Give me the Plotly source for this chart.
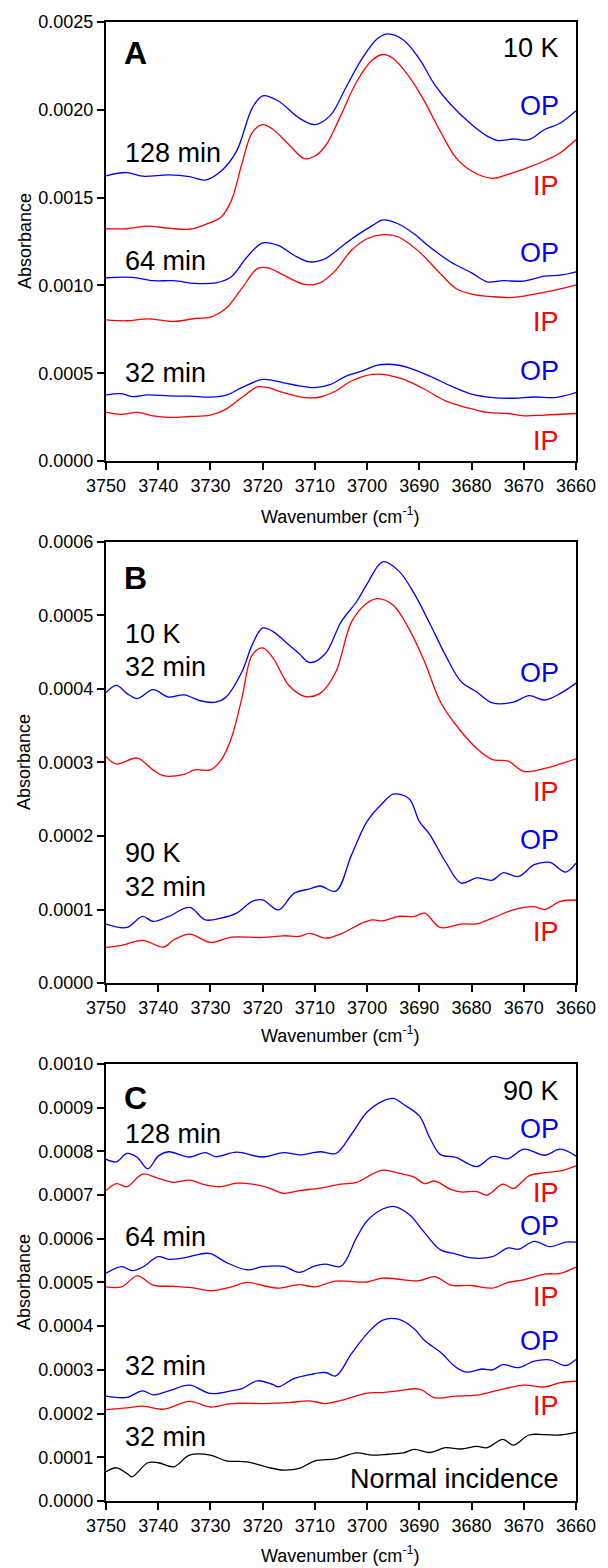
import plotly.graph_objects as go

# ---------------- Panel A (10 K) ----------------
A_OP128_x = [3750,3746,3743,3738,3734,3731,3728,3725,3722,3720,3717,3713,3710,3707,3704,3701,3698,3696,3693,3690,3687,3684,3680,3677,3675,3672,3669,3666,3663,3660]
A_OP128_y = [0.001624,0.001643,0.001622,0.00163,0.00162,0.0016,0.00165,0.001765,0.00201,0.00208,0.00205,0.001953,0.001916,0.00197,0.00213,0.00229,0.002406,0.002432,0.002396,0.00229,0.00214,0.00203,0.001916,0.00185,0.001825,0.001834,0.00183,0.001888,0.001925,0.001995]
A_IP128_x = [3750,3746,3742,3738,3734,3731,3728,3726,3724,3722,3720,3718,3715,3712,3710,3708,3705,3702,3699,3697,3695,3692,3689,3686,3683,3680,3676,3673,3670,3666,3663,3660]
A_IP128_y = [0.001323,0.001323,0.001338,0.001326,0.00132,0.001347,0.001388,0.001483,0.00169,0.00187,0.001916,0.001888,0.001803,0.001722,0.001737,0.001794,0.00197,0.00216,0.002283,0.002315,0.002292,0.00219,0.002048,0.001878,0.001728,0.001652,0.00161,0.001633,0.001662,0.00171,0.001756,0.001831]
A_OP64_x = [3750,3745,3741,3737,3733,3729,3726,3723,3720,3717,3714,3711,3708,3705,3702,3699,3697,3694,3691,3688,3684,3680,3677,3674,3670,3666,3663,3660]
A_OP64_y = [0.001044,0.001046,0.001027,0.001027,0.001012,0.001015,0.00105,0.001162,0.001242,0.001228,0.001172,0.001134,0.001153,0.001219,0.001285,0.001341,0.001373,0.00135,0.001294,0.001219,0.001134,0.001072,0.001021,0.001027,0.001025,0.001053,0.001059,0.001078]
A_IP64_x = [3750,3746,3742,3737,3733,3730,3727,3724,3721,3719,3716,3712,3709,3706,3703,3700,3697,3694,3690,3686,3683,3680,3676,3672,3668,3664,3660]
A_IP64_y = [0.000804,0.000799,0.00081,0.000795,0.000812,0.00082,0.00087,0.000983,0.001096,0.0011,0.001059,0.001006,0.001015,0.001087,0.0012,0.001266,0.001289,0.001276,0.001191,0.001068,0.000983,0.000951,0.000936,0.000932,0.000951,0.000974,0.001002]
A_OP32_x = [3750,3747,3745,3742,3738,3734,3730,3727,3724,3720,3716,3713,3710,3707,3704,3701,3698,3695,3692,3688,3684,3680,3676,3672,3668,3664,3660]
A_OP32_y = [0.000377,0.000384,0.000367,0.000377,0.000371,0.00037,0.000364,0.000375,0.000418,0.000465,0.000446,0.000428,0.000418,0.000437,0.000484,0.000512,0.000546,0.00055,0.000531,0.000484,0.000428,0.000381,0.000362,0.000358,0.000365,0.000362,0.00039]
A_IP32_x = [3750,3747,3744,3741,3738,3734,3730,3727,3724,3721,3719,3716,3712,3709,3706,3703,3699,3696,3693,3689,3685,3681,3677,3673,3670,3666,3660]
A_IP32_y = [0.000277,0.000266,0.000277,0.000258,0.000249,0.000254,0.000262,0.000296,0.000362,0.000422,0.000418,0.00039,0.000362,0.000365,0.000399,0.000456,0.000494,0.00049,0.000465,0.000409,0.000343,0.000305,0.000277,0.000271,0.000258,0.000262,0.000271]

# ---------------- Panel B (10 K vs 90 K, 32 min) ----------------
B_OP10_x = [3750,3748,3746,3744,3741,3738,3735,3732,3729,3727,3724,3722,3720,3718,3715,3713,3711,3708,3705,3702,3700,3697,3694,3691,3688,3685,3682,3679,3676,3672,3669,3666,3663,3660]
B_OP10_y = [0.000395,0.000405,0.000394,0.000387,0.000399,0.000389,0.000392,0.000384,0.000382,0.000389,0.000423,0.00046,0.000483,0.000478,0.00046,0.000448,0.000436,0.000448,0.000491,0.000519,0.000543,0.000573,0.000561,0.00053,0.000489,0.000446,0.00041,0.000396,0.000381,0.000382,0.000391,0.000385,0.000394,0.000408]
B_IP10_x = [3750,3748,3744,3741,3739,3735,3733,3730,3728,3726,3724,3722,3720,3718,3715,3712,3709,3706,3703,3700,3698,3695,3692,3689,3686,3683,3679,3676,3673,3670,3666,3663,3660]
B_IP10_y = [0.000308,0.000298,0.000306,0.00029,0.000282,0.000284,0.00029,0.00029,0.000303,0.000333,0.000387,0.000446,0.000456,0.000442,0.000405,0.00039,0.000394,0.000423,0.000491,0.000517,0.000523,0.000514,0.000482,0.000437,0.000383,0.000351,0.000319,0.000304,0.000302,0.000288,0.000292,0.000298,0.000305]
B_OP90_x = [3750,3746,3743,3741,3738,3734,3731,3728,3725,3722,3720,3717,3714,3711,3709,3706,3703,3700,3697,3695,3692,3690,3688,3685,3682,3679,3676,3674,3671,3668,3665,3662,3660]
B_OP90_y = [0.0000802,0.0000756,0.0000906,0.0000838,0.0000906,0.000103,0.000086,0.0000883,0.0000951,0.000111,0.000113,0.0000996,0.000122,0.000128,0.000132,0.000125,0.000174,0.00022,0.000245,0.000257,0.000251,0.00022,0.000202,0.000165,0.000136,0.000143,0.00014,0.00015,0.000145,0.000161,0.000164,0.000151,0.000163]
B_IP90_x = [3750,3747,3743,3739,3737,3734,3730,3726,3720,3716,3713,3711,3708,3705,3701,3699,3697,3694,3691,3689,3686,3682,3679,3676,3672,3668,3666,3663,3660]
B_IP90_y = [0.0000485,0.0000512,0.000058,0.0000489,0.0000589,0.0000666,0.0000553,0.0000625,0.000062,0.0000643,0.0000634,0.0000675,0.0000611,0.000067,0.0000815,0.000086,0.0000847,0.0000906,0.0000906,0.0000951,0.0000756,0.0000802,0.0000806,0.0000883,0.0000996,0.000104,0.0001,0.000111,0.000113]

# ---------------- Panel C (90 K) ----------------
C_OP128_x = [3750,3748,3746,3744,3742,3740,3738,3734,3731,3729,3725,3720,3716,3713,3709,3706,3703,3700,3697,3695,3693,3690,3688,3686,3683,3679,3676,3673,3670,3666,3663,3660]
C_OP128_y = [0.000782,0.000776,0.000795,0.000786,0.00076,0.000789,0.000799,0.000787,0.000797,0.000788,0.000798,0.000787,0.000797,0.000792,0.000799,0.000795,0.000839,0.00089,0.000915,0.000921,0.000907,0.000881,0.000831,0.000793,0.000786,0.000765,0.000788,0.000783,0.000805,0.000791,0.000805,0.000789]
C_IP128_x = [3750,3748,3746,3743,3740,3737,3734,3731,3728,3725,3722,3719,3716,3713,3709,3705,3702,3699,3697,3694,3691,3689,3687,3684,3682,3679,3677,3674,3672,3669,3666,3663,3660]
C_IP128_y = [0.00071,0.000726,0.000719,0.000748,0.000738,0.000729,0.000734,0.000723,0.000719,0.000727,0.000725,0.000717,0.000704,0.00071,0.000716,0.000725,0.000729,0.000748,0.000757,0.00075,0.000741,0.000726,0.000732,0.000713,0.000707,0.000708,0.0007,0.000725,0.000715,0.000744,0.000751,0.000755,0.000767]
C_OP64_x = [3750,3747,3745,3743,3740,3738,3735,3732,3730,3727,3723,3720,3716,3713,3710,3708,3705,3702,3700,3697,3695,3692,3689,3686,3683,3680,3676,3673,3671,3668,3665,3662,3660]
C_OP64_y = [0.000521,0.000536,0.000527,0.000535,0.000559,0.000553,0.000556,0.000565,0.000566,0.000546,0.000529,0.000536,0.000537,0.000523,0.000538,0.000542,0.000537,0.000603,0.000641,0.000668,0.000674,0.000656,0.000614,0.000575,0.000565,0.000556,0.000559,0.000579,0.000576,0.000594,0.000582,0.000592,0.000592]
C_IP64_x = [3750,3747,3744,3741,3737,3733,3730,3726,3723,3720,3717,3713,3710,3706,3700,3697,3693,3690,3687,3684,3680,3676,3673,3670,3666,3663,3660]
C_IP64_y = [0.00049,0.00049,0.000515,0.000494,0.000491,0.000487,0.000481,0.00049,0.0005,0.000493,0.000487,0.000495,0.00049,0.000503,0.000501,0.00051,0.000506,0.000504,0.000513,0.000494,0.000493,0.000487,0.0005,0.000506,0.000519,0.000521,0.000535]
C_OP32_x = [3750,3746,3743,3741,3738,3734,3730,3726,3724,3721,3718,3717,3714,3711,3708,3706,3703,3700,3697,3694,3691,3689,3686,3683,3681,3678,3676,3674,3671,3668,3665,3662,3660]
C_OP32_y = [0.00024,0.000237,0.000252,0.000243,0.000252,0.000265,0.000246,0.000252,0.000257,0.000275,0.000266,0.000261,0.00028,0.000289,0.000294,0.000286,0.000337,0.000383,0.000414,0.000416,0.000394,0.000367,0.000341,0.000306,0.000295,0.000302,0.0003,0.000312,0.000305,0.00032,0.000323,0.00031,0.000324]
C_IP32_x = [3750,3746,3743,3739,3734,3730,3726,3720,3715,3711,3708,3705,3700,3697,3694,3690,3687,3683,3679,3675,3670,3666,3663,3660]
C_IP32_y = [0.000209,0.000213,0.000217,0.00021,0.000228,0.000215,0.000223,0.000223,0.000225,0.000229,0.000223,0.00023,0.000247,0.000248,0.000252,0.000256,0.000236,0.00024,0.000242,0.000253,0.000265,0.000261,0.000271,0.000274]
C_NI32_x = [3750,3748,3746,3745,3742,3740,3737,3734,3730,3727,3723,3719,3716,3713,3710,3706,3702,3699,3696,3693,3691,3688,3685,3682,3679,3677,3674,3672,3669,3666,3663,3660]
C_NI32_y = [0.0000669,0.000076,0.0000631,0.0000555,0.0000875,0.0000875,0.0000783,0.000105,0.000105,0.000092,0.0000897,0.0000768,0.0000707,0.0000745,0.000092,0.0000966,0.00011,0.000105,0.000107,0.00011,0.000118,0.000111,0.000122,0.000119,0.000125,0.000122,0.000141,0.000128,0.000151,0.000152,0.000151,0.000157]

y_ticks_A = [0.0, 0.0005, 0.0010, 0.0015, 0.0020, 0.0025]
y_ticks_B = [0.0, 0.0001, 0.0002, 0.0003, 0.0004, 0.0005, 0.0006]
y_ticks_C = [0.0, 0.0001, 0.0002, 0.0003, 0.0004, 0.0005, 0.0006, 0.0007, 0.0008, 0.0009, 0.0010]
x_ticks = [3750, 3740, 3730, 3720, 3710, 3700, 3690, 3680, 3670, 3660]

BLUE = "#0000ff"
RED = "#ff0000"
BLACK = "#000000"
FONT = "Liberation Sans, Arial, sans-serif"

W, H = 608, 1568
L, R, T, B = 106, 29, 19, 67
PW, PH = W - L - R, H - T - B

def px(xp):
    return (xp - L) / PW

def py(yp):
    return (H - B - yp) / PH

fig = go.Figure()

curves = [
    (A_OP128_x, A_OP128_y, BLUE, "x", "y"),
    (A_IP128_x, A_IP128_y, RED, "x", "y"),
    (A_OP64_x, A_OP64_y, BLUE, "x", "y"),
    (A_IP64_x, A_IP64_y, RED, "x", "y"),
    (A_OP32_x, A_OP32_y, BLUE, "x", "y"),
    (A_IP32_x, A_IP32_y, RED, "x", "y"),
    (B_OP10_x, B_OP10_y, BLUE, "x2", "y2"),
    (B_IP10_x, B_IP10_y, RED, "x2", "y2"),
    (B_OP90_x, B_OP90_y, BLUE, "x2", "y2"),
    (B_IP90_x, B_IP90_y, RED, "x2", "y2"),
    (C_OP128_x, C_OP128_y, BLUE, "x3", "y3"),
    (C_IP128_x, C_IP128_y, RED, "x3", "y3"),
    (C_OP64_x, C_OP64_y, BLUE, "x3", "y3"),
    (C_IP64_x, C_IP64_y, RED, "x3", "y3"),
    (C_OP32_x, C_OP32_y, BLUE, "x3", "y3"),
    (C_IP32_x, C_IP32_y, RED, "x3", "y3"),
    (C_NI32_x, C_NI32_y, BLACK, "x3", "y3"),
]
for xs, ys, col, xa, ya in curves:
    fig.add_trace(go.Scatter(x=xs, y=ys, mode="lines", xaxis=xa, yaxis=ya,
                             line=dict(color=col, width=1.3, shape="spline", smoothing=1.0),
                             showlegend=False, hoverinfo="skip"))

# panel pixel extents (top, bottom)
panels = [(19, 459, y_ticks_A), (540, 982, y_ticks_B), (1063, 1501, y_ticks_C)]

axis_common = dict(showline=True, linecolor="black", linewidth=2, mirror=True,
                   ticks="outside", ticklen=7, tickwidth=1.5, tickcolor="black",
                   showgrid=False, zeroline=False,
                   tickfont=dict(family=FONT, size=18, color="black"))

layout = dict(width=W, height=H, margin=dict(l=L, r=R, t=T, b=B),
              paper_bgcolor="white", plot_bgcolor="white", showlegend=False,
              font=dict(family=FONT, color="black"))

for i, (tp, bp, yt) in enumerate(panels):
    sfx = "" if i == 0 else str(i + 1)
    layout["xaxis" + sfx] = dict(axis_common, domain=[0, 1], anchor="y" + sfx,
                                 range=[3750, 3660], tickvals=x_ticks,
                                 ticktext=[str(v) for v in x_ticks])
    layout["yaxis" + sfx] = dict(axis_common, domain=[py(bp), py(tp)], anchor="x" + sfx,
                                 range=[yt[0], yt[-1]], tickvals=yt,
                                 ticktext=[f"{v:.4f}" for v in yt])

fig.update_layout(**layout)

ann = []
def txt(text, xp, yp, color=BLACK, size=27, anchor="left", bold=False):
    ann.append(dict(text=("<b>%s</b>" % text) if bold else text, x=px(xp), y=py(yp),
                    xref="paper", yref="paper", showarrow=False,
                    xanchor=anchor, yanchor="middle",
                    font=dict(family=FONT, size=size, color=color)))

# axis titles
for (tp, bp, yt), xt_y in zip(panels, [514, 1034, 1555]):
    txt("Absorbance", 24, (tp + bp) / 2, size=18, anchor="center")
    ann[-1]["textangle"] = -90
    txt("Wavenumber (cm<sup>-1</sup>)", 342, xt_y, size=18, anchor="center")

# Panel A
txt("A", 122, 50, size=32, bold=True)
txt("10 K", 564, 45, anchor="right")
txt("OP", 564, 103, color=BLUE, anchor="right")
txt("128 min", 123, 150)
txt("IP", 564, 183, color=RED, anchor="right")
txt("64 min", 123, 258)
txt("OP", 564, 250, color=BLUE, anchor="right")
txt("IP", 564, 320, color=RED, anchor="right")
txt("32 min", 123, 371)
txt("OP", 564, 369, color=BLUE, anchor="right")
txt("IP", 564, 439, color=RED, anchor="right")

# Panel B
txt("B", 122, 576, size=32, bold=True)
txt("10 K", 123, 632)
txt("32 min", 123, 665)
txt("OP", 564, 671, color=BLUE, anchor="right")
txt("IP", 564, 791, color=RED, anchor="right")
txt("90 K", 123, 852)
txt("32 min", 123, 886)
txt("OP", 564, 839, color=BLUE, anchor="right")
txt("IP", 564, 931, color=RED, anchor="right")

# Panel C
txt("C", 122, 1097, size=32, bold=True)
txt("90 K", 564, 1090, anchor="right")
txt("128 min", 123, 1133)
txt("OP", 564, 1128, color=BLUE, anchor="right")
txt("IP", 564, 1192, color=RED, anchor="right")
txt("64 min", 123, 1236)
txt("OP", 564, 1225, color=BLUE, anchor="right")
txt("IP", 564, 1297, color=RED, anchor="right")
txt("32 min", 123, 1366)
txt("OP", 564, 1341, color=BLUE, anchor="right")
txt("IP", 564, 1406, color=RED, anchor="right")
txt("32 min", 123, 1437)
txt("Normal incidence", 564, 1479, anchor="right")

fig.update_layout(annotations=ann)
fig.write_html("out.html", config={"displayModeBar": False},
               post_script="document.body.style.margin='0';document.body.style.overflow='hidden';")
